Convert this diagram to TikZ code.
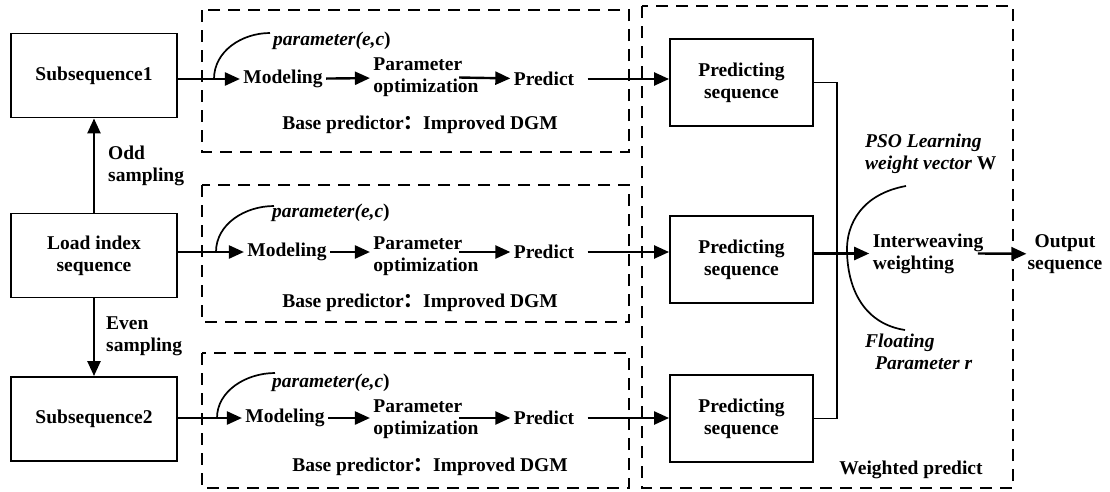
\documentclass[tikz,border=0pt]{standalone}
\usepackage{fontspec}
\setmainfont{Liberation Serif}
\newfontfamily\cjk{Noto Sans CJK SC}
\usepackage{tikz}
\usetikzlibrary{arrows.meta}

\newcommand\labelsize{\fontsize{19.5}{22}\selectfont}

\tikzset{
  inbox/.style={draw, line width=1.9pt, minimum width=166pt, minimum height=84pt, align=center},
  seqbox/.style={draw, line width=1.9pt, minimum width=143pt, minimum height=87pt, align=center},
  group/.style={draw, line width=2.9pt, dash pattern=on 12pt off 8pt},
  arr/.style={line width=2.4pt, -{Triangle[length=15pt,width=13pt]}},
  thinline/.style={line width=1.7pt},
  note/.style={font=\labelsize\bfseries\itshape, align=left, inner sep=0pt}
}

\begin{document}
\begin{tikzpicture}[x=1pt, y=-1pt, font=\labelsize\bfseries]
  \useasboundingbox (0,0) rectangle (1110,491);

  % --- input side: the load series and its two subsequences ---
  \node[inbox] (sub1) at (94,75.5) {Subsequence1};
  \node[inbox] (load) at (94,255.5) {Load index\\sequence};
  \node[inbox] (sub2) at (94,419) {Subsequence2};

  \draw[arr] (load.north) -- (sub1.south);
  \draw[arr] (load.south) -- (sub2.north);
  \node[align=left, anchor=west, inner sep=0pt] (odd) at (108,166) {Odd\\sampling};
  \node[align=left, anchor=west, inner sep=0pt] (even) at (106,336.5) {Even\\sampling};

  % --- row 1: base predictor for Subsequence1 ---
  \begin{scope}[shift={(0,79)}]
    \draw[group] (202,-69) rectangle (629,73);
    \node (mod1) at (283,0) {Modeling};
    \node[align=left] (opt1) at (426,-1.5) {Parameter\\optimization};
    \node (prd1) at (544,0) {Predict};
    \node[note, anchor=west] (par1) at (273,-38) {parameter(e,c{\upshape)}};
    \node (base1) at (420,46) {Base predictor{\cjk ：}Improved DGM};

    \draw[thinline] (214,0) .. controls (214,-28) and (242,-46) .. (270,-46);
    \draw[arr] (sub1.east |- mod1) -- (mod1);
    \draw[arr] (mod1) -- (opt1);
    \draw[arr] ([xshift=-23pt]opt1.east) -- (prd1);
  \end{scope}

  % --- row 2: base predictor for the full series ---
  \begin{scope}[shift={(0,252)}]
    \draw[group] (202,-67) rectangle (629,70);
    \node (mod2) at (287,0) {Modeling};
    \node[align=left] (opt2) at (426,4) {Parameter\\optimization};
    \node (prd2) at (544,0) {Predict};
    \node[note, anchor=west] (par2) at (272,-39) {parameter(e,c{\upshape)}};
    \node (base2) at (420,51) {Base predictor{\cjk ：}Improved DGM};

    \draw[thinline] (216,0) .. controls (216,-28) and (245,-46) .. (274,-46);
    \draw[arr] (load.east |- mod2) -- (mod2);
    \draw[arr] (mod2) -- (opt2.west |- mod2);
    \draw[arr] ([xshift=-23pt]opt2.east |- prd2) -- (prd2);
  \end{scope}

  % --- row 3: base predictor for Subsequence2 ---
  \begin{scope}[shift={(0,418)}]
    \draw[group] (202,-65) rectangle (629,70);
    \node (mod3) at (285,0) {Modeling};
    \node[align=left] (opt3) at (426,1) {Parameter\\optimization};
    \node (prd3) at (544,0) {Predict};
    \node[note, anchor=west] (par3) at (272,-35) {parameter(e,c{\upshape)}};
    \node (base3) at (430,49) {Base predictor{\cjk ：}Improved DGM};

    \draw[thinline] (217,0) .. controls (217,-27) and (246,-45) .. (275,-45);
    \draw[arr] (sub2.east |- mod3) -- (mod3);
    \draw[arr] (mod3) -- (opt3.west |- mod3);
    \draw[arr] ([xshift=-23pt]opt3.east |- prd3) -- (prd3);
  \end{scope}

  % --- weighted prediction block ---
  \draw[group] (642,6) rectangle (1013,488);
  \node[seqbox] (ps1) at (741.5,82.5) {Predicting\\sequence};
  \node[seqbox] (ps2) at (741.5,259.5) {Predicting\\sequence};
  \node[seqbox] (ps3) at (741.5,418.5) {Predicting\\sequence};

  \draw[arr, shorten <=10pt] (prd1) -- (prd1 -| ps1.west);
  \draw[arr, shorten <=10pt] (prd2) -- (prd2 -| ps2.west);
  \draw[arr, shorten <=10pt] (prd3) -- (prd3 -| ps3.west);

  \node[align=left] (mix) at (928,253.5) {Interweaving\\weighting};
  \node[align=center, inner sep=1pt] (out) at (1065,254) {Output\\sequence};
  \node[note, anchor=west] (pso) at (865,154) {PSO Learning\\weight vector {\upshape W}};
  \node[note, anchor=west] (flt) at (865,351.5) {Floating\\\hspace{10pt}Parameter r};
  \node (wp) at (911,470) {Weighted predict};

  % collector line from the outer predicting sequences
  \coordinate (bus) at (837,250);
  \draw[thinline] (ps1.east) -| (bus) |- (ps3.east);
  \draw[arr] (ps2.east |- mix) -- (mix);
  \draw[arr] ([xshift=-9pt]mix.east) -- (out);

  % bracket of the weighting parameters
  \draw[thinline] (906,186) .. controls (862,194) and (846,224) .. (847,252)
    .. controls (848,292) and (866,324) .. (905,330);
\end{tikzpicture}
\end{document}
